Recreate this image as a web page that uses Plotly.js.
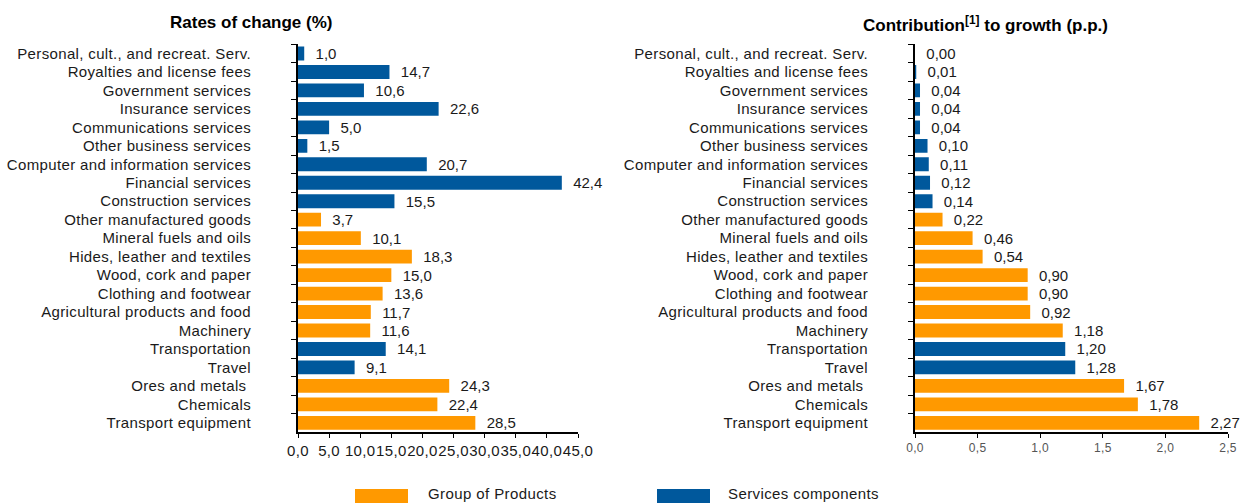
<!DOCTYPE html>
<html>
<head>
<meta charset="utf-8">
<script src="https://cdn.plot.ly/plotly-3.0.1.min.js"></script>
<style>
html,body{margin:0;padding:0;background:#fff;}
#chart{width:1244px;height:503px;}
#chart .xtick text, #chart .ytick text, #chart .textpoint text, #chart .y2tick text, #chart .x2tick text { letter-spacing: 0.35px; }
</style>
</head>
<body>
<div id="chart"></div>
<script>
// Categories, top to bottom
const categories = [
  "Personal, cult., and recreat. Serv.",
  "Royalties and license fees",
  "Government services",
  "Insurance services",
  "Communications services",
  "Other business services",
  "Computer and information services",
  "Financial services",
  "Construction services",
  "Other manufactured goods",
  "Mineral fuels and oils",
  "Hides, leather and textiles",
  "Wood, cork and paper",
  "Clothing and footwear",
  "Agricultural products and food",
  "Machinery",
  "Transportation",
  "Travel",
  "Ores and metals ",
  "Chemicals",
  "Transport equipment"
];
// group of each category: "S" services component, "P" group of products
const groups = ["S","S","S","S","S","S","S","S","S","P","P","P","P","P","P","P","S","S","P","P","P"];
const ratesOfChange = [1.0,14.7,10.6,22.6,5.0,1.5,20.7,42.4,15.5,3.7,10.1,18.3,15.0,13.6,11.7,11.6,14.1,9.1,24.3,22.4,28.5];
const contribution = [0.00,0.01,0.04,0.04,0.04,0.10,0.11,0.12,0.14,0.22,0.46,0.54,0.90,0.90,0.92,1.18,1.20,1.28,1.67,1.78,2.27];
const leftTicks = [0,5,10,15,20,25,30,35,40,45];
const rightTicks = [0,0.5,1,1.5,2,2.5];
const seriesNames = {P: "Group of Products", S: "Services components"};
const colors = {P: "#FF9900", S: "#00589C"};

const FONT = "Liberation Sans, Arial, sans-serif";
const pad = "\u00a0\u00a0";

function pick(arr, g) { return arr.filter((v, i) => groups[i] === g); }

const traces = [];
["P","S"].forEach(g => {
  traces.push({
    type: "bar", orientation: "h",
    y: pick(categories, g), x: pick(ratesOfChange, g),
    xaxis: "x", yaxis: "y",
    name: seriesNames[g], marker: {color: colors[g]},
    width: 0.75,
    texttemplate: pad + "%{x:.1f}", textposition: "outside", constraintext: "none",
    textfont: {family: FONT, size: 15, color: "#1a1a1a"},
    cliponaxis: false, showlegend: false, hoverinfo: "x+y"
  });
  traces.push({
    type: "bar", orientation: "h",
    y: pick(categories, g), x: pick(contribution, g),
    xaxis: "x2", yaxis: "y2",
    name: seriesNames[g], marker: {color: colors[g]},
    width: 0.75,
    texttemplate: pad + "%{x:.2f}", textposition: "outside", constraintext: "none",
    textfont: {family: FONT, size: 15, color: "#1a1a1a"},
    cliponaxis: false, showlegend: false, hoverinfo: "x+y"
  });
});

const yBase = {
  type: "category", categoryorder: "array", categoryarray: categories,
  autorange: "reversed", domain: [0.141, 0.912],
  showline: true, linecolor: "#000", linewidth: 2,
  ticks: "outside", ticklen: 5, tickcolor: "#000", tickwidth: 1,
  tickson: "boundaries", ticklabelstandoff: 42,
  tickfont: {family: FONT, size: 15, color: "#1a1a1a"},
  showgrid: false, zeroline: false, fixedrange: true
};

const layout = {
  width: 1244, height: 503,
  margin: {l: 0, r: 0, t: 0, b: 0},
  paper_bgcolor: "#fff", plot_bgcolor: "#fff",
  separators: ", ",
  barmode: "overlay",
  showlegend: false,
  font: {family: FONT, size: 15, color: "#1a1a1a"},
  xaxis: {
    domain: [298/1244, 578/1244], range: [0, 45], tickvals: leftTicks,
    tickformat: ".1f", tickangle: 0, showline: true, linecolor: "#000", linewidth: 2,
    ticks: "outside", ticklen: 4, tickcolor: "#000",
    tickfont: {family: FONT, size: 15, color: "#1a1a1a"},
    showgrid: false, zeroline: false, anchor: "y", fixedrange: true
  },
  yaxis: Object.assign({}, yBase, {anchor: "x"}),
  xaxis2: {
    domain: [915/1244, 1228/1244], range: [0, 2.5], tickvals: rightTicks,
    tickformat: ".1f", tickangle: 0, showline: true, linecolor: "#000", linewidth: 2,
    ticks: "outside", ticklen: 4, tickcolor: "#000",
    tickfont: {family: FONT, size: 12, color: "#555"},
    showgrid: false, zeroline: false, anchor: "y2", fixedrange: true
  },
  yaxis2: Object.assign({}, yBase, {anchor: "x2"}),
  annotations: [
    {text: "<b>Rates of change (%)</b>", xref: "paper", yref: "paper",
     x: 251/1244, y: 1 - 22/503, xanchor: "center", yanchor: "middle",
     showarrow: false, font: {family: FONT, size: 17, color: "#000"}},
    {text: "<b>Contribution<sup>[1]</sup> to growth (p.p.)</b>", xref: "paper", yref: "paper",
     x: 985/1244, y: 1 - 24/503, xanchor: "center", yanchor: "middle",
     showarrow: false, font: {family: FONT, size: 17, color: "#000"}},
    {text: "<span style=\"letter-spacing:0.4px\">" + seriesNames.P + "</span>", xref: "paper", yref: "paper",
     x: 426/1244, y: 1 - 493/503, xanchor: "left", yanchor: "middle",
     showarrow: false, font: {family: FONT, size: 15, color: "#1a1a1a"}},
    {text: "<span style=\"letter-spacing:0.4px\">" + seriesNames.S + "</span>", xref: "paper", yref: "paper",
     x: 726/1244, y: 1 - 493/503, xanchor: "left", yanchor: "middle",
     showarrow: false, font: {family: FONT, size: 15, color: "#1a1a1a"}}
  ],
  shapes: [
    {type: "rect", xref: "paper", yref: "paper", x0: 355/1244, x1: 408/1244,
     y0: 0, y1: 1 - 489/503, fillcolor: colors.P, line: {width: 0}},
    {type: "rect", xref: "paper", yref: "paper", x0: 657/1244, x1: 710/1244,
     y0: 0, y1: 1 - 489/503, fillcolor: colors.S, line: {width: 0}}
  ]
};

Plotly.newPlot("chart", traces, layout, {staticPlot: true, displayModeBar: false});
</script>
</body>
</html>
